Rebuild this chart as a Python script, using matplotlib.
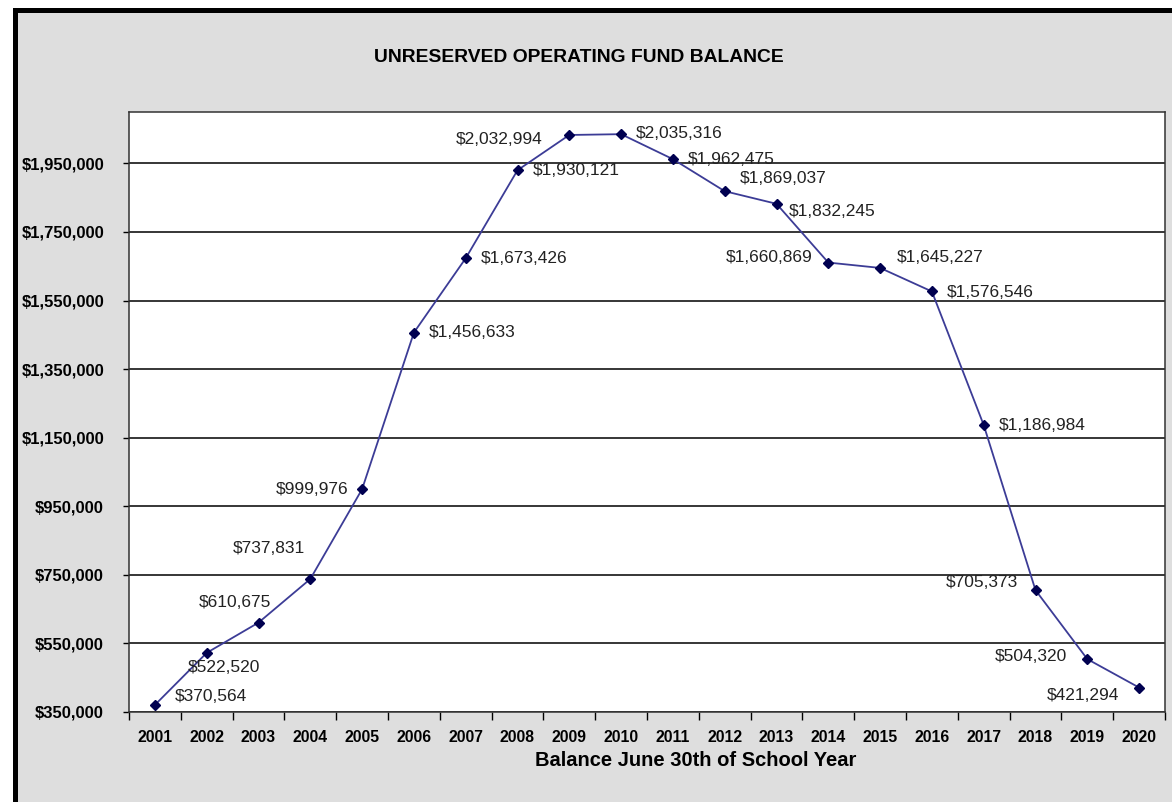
import numpy as np
import matplotlib
matplotlib.use("Agg")
import matplotlib.pyplot as plt
from matplotlib.patches import Rectangle
from matplotlib.ticker import FuncFormatter

plt.rcParams["font.family"] = ["Liberation Sans", "DejaVu Sans"]

# data
years = [str(y) for y in range(2001, 2021)]
balance = [370564, 522520, 610675, 737831, 999976, 1456633, 1673426, 1930121,
           2032994, 2035316, 1962475, 1869037, 1832245, 1660869, 1645227,
           1576546, 1186984, 705373, 504320, 421294]
y_ticks = list(range(350000, 1950001, 200000))

# label placement (pixel offsets from the point, alignment)
label_pos = [(20, 8, "left"), (-19, -15, "left"), (-60, 20, "left"), (-5, 31, "right"),
             (-14, 0, "right"), (15, 0, "left"), (15, 0, "left"), (15, 0, "left"),
             (-27, -5, "right"), (15, 1, "left"), (15, 0, "left"), (15, 13, "left"),
             (12, -8, "left"), (-16, 5, "right"), (17, 10, "left"), (15, -1, "left"),
             (15, 0, "left"), (-17, 8, "right"), (-20, 3, "right"), (-20, -8, "right")]

W, H = 1172, 802
fig = plt.figure(figsize=(W / 100, H / 100), dpi=100)
fig.patch.set_facecolor("white")

# grey background panel with thick black frame (cropped on right/bottom)
bg = Rectangle((14.5 / W, -0.1), 1.2, 1 - 9.5 / H + 0.1, transform=fig.transFigure,
               facecolor="#dedede", edgecolor="black", linewidth=3.6, zorder=-5)
fig.patches.append(bg)

ax = fig.add_axes([129 / W, 1 - 712 / H, (1165 - 129) / W, (712 - 112) / H])
ax.set_facecolor("white")

x = np.arange(len(years))
ax.plot(x, balance, color="#3c3c96", linewidth=1.3, marker="D", markersize=5.5,
        markerfacecolor="#000050", markeredgecolor="#000050", zorder=3)

for i, v in enumerate(balance):
    dx, dy, ha = label_pos[i]
    ax.annotate(f"${v:,}", (x[i], v), xytext=(dx, dy), textcoords="offset pixels",
                ha=ha, va="center", fontsize=12.5, color="#222222", zorder=4)

ax.set_xlim(-0.5, len(years) - 0.5)
ax.set_ylim(350000, 2100000)

ax.set_yticks(y_ticks)
ax.yaxis.set_major_formatter(FuncFormatter(lambda v, p: f"${int(v):,}"))
ax.tick_params(axis="y", length=4, width=1, pad=14, labelsize=12)
for t in ax.get_yticklabels():
    t.set_fontweight("bold")

ax.set_xticks(np.arange(-0.5, len(years), 1))
ax.set_xticklabels([])
ax.set_xticks(x, minor=True)
ax.set_xticklabels(years, minor=True, fontsize=11.3, fontweight="bold")
ax.tick_params(axis="x", which="major", length=6, width=1)
ax.tick_params(axis="x", which="minor", length=0, pad=13)

ax.grid(axis="y", color="black", linewidth=1.1)
ax.set_axisbelow(True)
for s in ax.spines.values():
    s.set_color("#333333")
    s.set_linewidth(1.1)

fig.text(579 / W, 1 - 57 / H, "UNRESERVED OPERATING FUND BALANCE", ha="center",
         va="center", fontsize=13.9, fontweight="bold")
fig.text(696 / W, 1 - 760 / H, "Balance June 30th of School Year", ha="center",
         va="center", fontsize=14.5, fontweight="bold")

fig.savefig("out.png", dpi=100)
